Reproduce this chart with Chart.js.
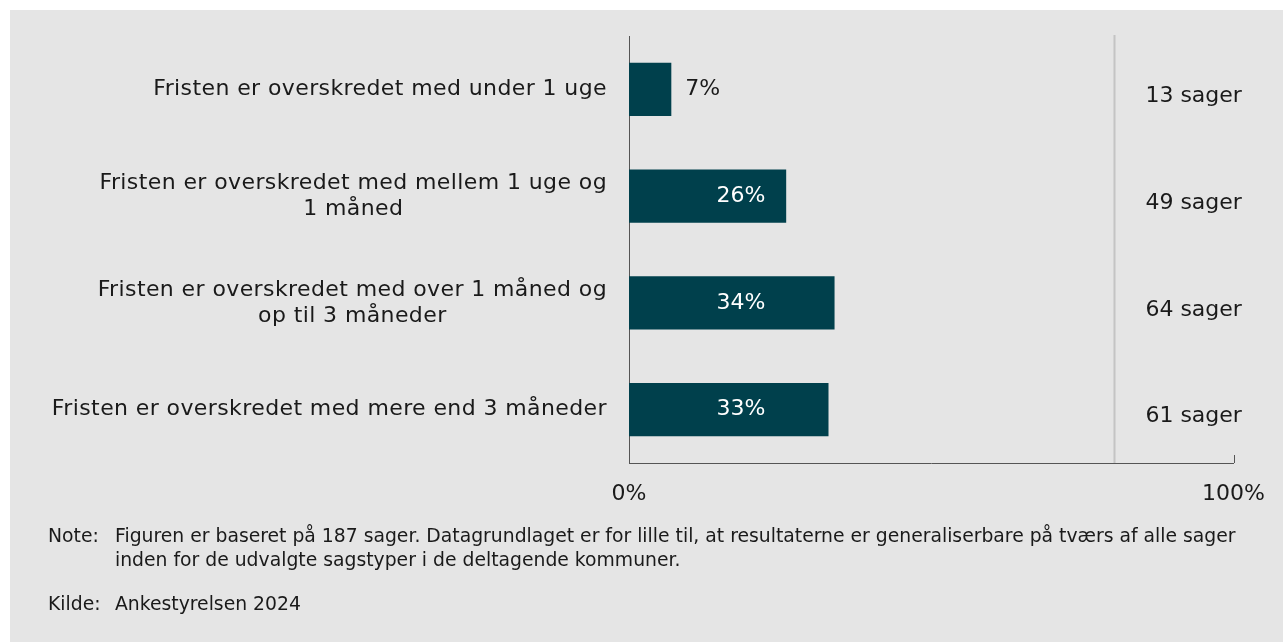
<!DOCTYPE html>
<html>
<head>
<meta charset="utf-8">
<script src="https://cdn.jsdelivr.net/npm/chart.js@4"></script>
<style>
  html, body { margin: 0; padding: 0; background: #fff; }
  body { width: 1283px; height: 642px; position: relative; overflow: hidden; font-family: 'DejaVu Sans'; }
  #panel { position: absolute; left: 10px; top: 10px; right: 0; bottom: 0; background: #e5e5e5; }
  #chart { position: absolute; left: 0; top: 0; }
  .note { position: absolute; left: 48px; font-size: 18.8px; color: #1a1a1a; line-height: 24px; white-space: nowrap; }
  .note .lbl { position: absolute; left: 0; }
  .note .txt { position: absolute; left: 67px; }
</style>
</head>
<body>
<div id="panel"></div>
<canvas id="chart" width="1283" height="642"></canvas>
<div class="note" style="top:524px"><span class="lbl">Note:</span><span class="txt">Figuren er baseret på 187 sager. Datagrundlaget er for lille til, at resultaterne er generaliserbare på tværs af alle sager<br>inden for de udvalgte sagstyper i de deltagende kommuner.</span></div>
<div class="note" style="top:592px"><span class="lbl">Kilde:</span><span class="txt">Ankestyrelsen 2024</span></div>
<script>
// kategorier og værdier
const categories = [
  ["Fristen er overskredet med under 1 uge"],
  ["Fristen er overskredet med mellem 1 uge og", "1 måned"],
  ["Fristen er overskredet med over 1 måned og", "op til 3 måneder"],
  ["Fristen er overskredet med mere end 3 måneder"]
];
const shares = [7, 26, 34, 33];        // procent
const caseCounts = [13, 49, 64, 61];   // antal sager
const xTicks = [0, 100];

const FONT = "'DejaVu Sans'";
const BAR = "#00404c";

// egne tekster: kategorier, dataetiketter, antal sager
const customDraw = {
  id: "customDraw",
  afterDatasetsDraw(chart) {
    const { ctx, chartArea } = chart;
    const x = chart.scales.x, y = chart.scales.y;
    ctx.save();
    ctx.font = "22px " + FONT;
    ctx.textBaseline = "middle";

    // skillelinje før antal sager
    const sx = Math.round(x.getPixelForValue(80.2)) + 0.5;
    ctx.strokeStyle = "#c4c4c4";
    ctx.lineWidth = 2;
    ctx.beginPath();
    ctx.moveTo(sx, chartArea.top - 1);
    ctx.lineTo(sx, chartArea.bottom);
    ctx.stroke();

    // lille tick ved 100%
    const ex = Math.round(x.getPixelForValue(100)) + 0.5;
    ctx.strokeStyle = "#555";
    ctx.lineWidth = 1;
    ctx.beginPath();
    ctx.moveTo(ex, chartArea.bottom);
    ctx.lineTo(ex, chartArea.bottom - 8);
    ctx.stroke();

    categories.forEach((lines, i) => {
      const cy = y.getPixelForValue(i);
      // kategori-tekst: højrestillet blok, centrerede linjer
      ctx.fillStyle = "#1a1a1a";
      ctx.textAlign = "center";
      ctx.letterSpacing = "0.4px";
      const w = Math.max(...lines.map(l => ctx.measureText(l).width));
      const right = chartArea.left - 22;
      const lh = 26;
      lines.forEach((l, k) => {
        ctx.fillText(l, right - w / 2, cy + (k - (lines.length - 1) / 2) * lh);
      });
      ctx.letterSpacing = "0px";

      // dataetiket
      const v = shares[i];
      const label = v + "%";
      if (v < 10) {
        ctx.fillStyle = "#1a1a1a";
        ctx.textAlign = "left";
        ctx.fillText(label, x.getPixelForValue(v) + 14, cy);
      } else {
        ctx.fillStyle = "#ffffff";
        ctx.textAlign = "center";
        ctx.fillText(label, x.getPixelForValue(18.5), cy);
      }

      // antal sager
      ctx.fillStyle = "#1a1a1a";
      ctx.textAlign = "center";
      ctx.fillText(caseCounts[i] + " sager", x.getPixelForValue(93.4), cy + 7);
    });
    ctx.restore();
  }
};

new Chart(document.getElementById("chart"), {
  type: "bar",
  data: {
    labels: categories.map(c => c.join(" ")),
    datasets: [{
      data: shares,
      backgroundColor: BAR,
      borderWidth: 0,
      categoryPercentage: 1,
      barPercentage: 0.5
    }]
  },
  options: {
    indexAxis: "y",
    responsive: false,
    animation: false,
    layout: { padding: { left: 629, right: 49, top: 36, bottom: 129 } },
    plugins: { legend: { display: false }, tooltip: { enabled: false } },
    scales: {
      x: {
        min: 0, max: 100,
        afterBuildTicks: s => { s.ticks = xTicks.map(v => ({ value: v })); },
        afterFit: s => { s.height = 50; },
        grid: { display: false, drawTicks: false },
        border: { display: true, color: "#555", width: 1 },
        ticks: {
          padding: 18,
          color: "#1a1a1a",
          font: { family: FONT, size: 22 },
          callback: v => v + "%",
          maxRotation: 0
        }
      },
      y: {
        afterFit: s => { s.width = 0; },
        grid: { display: false, drawTicks: false },
        border: { display: true, color: "#555", width: 1 },
        ticks: { display: false }
      }
    }
  },
  plugins: [customDraw]
});
</script>
</body>
</html>
